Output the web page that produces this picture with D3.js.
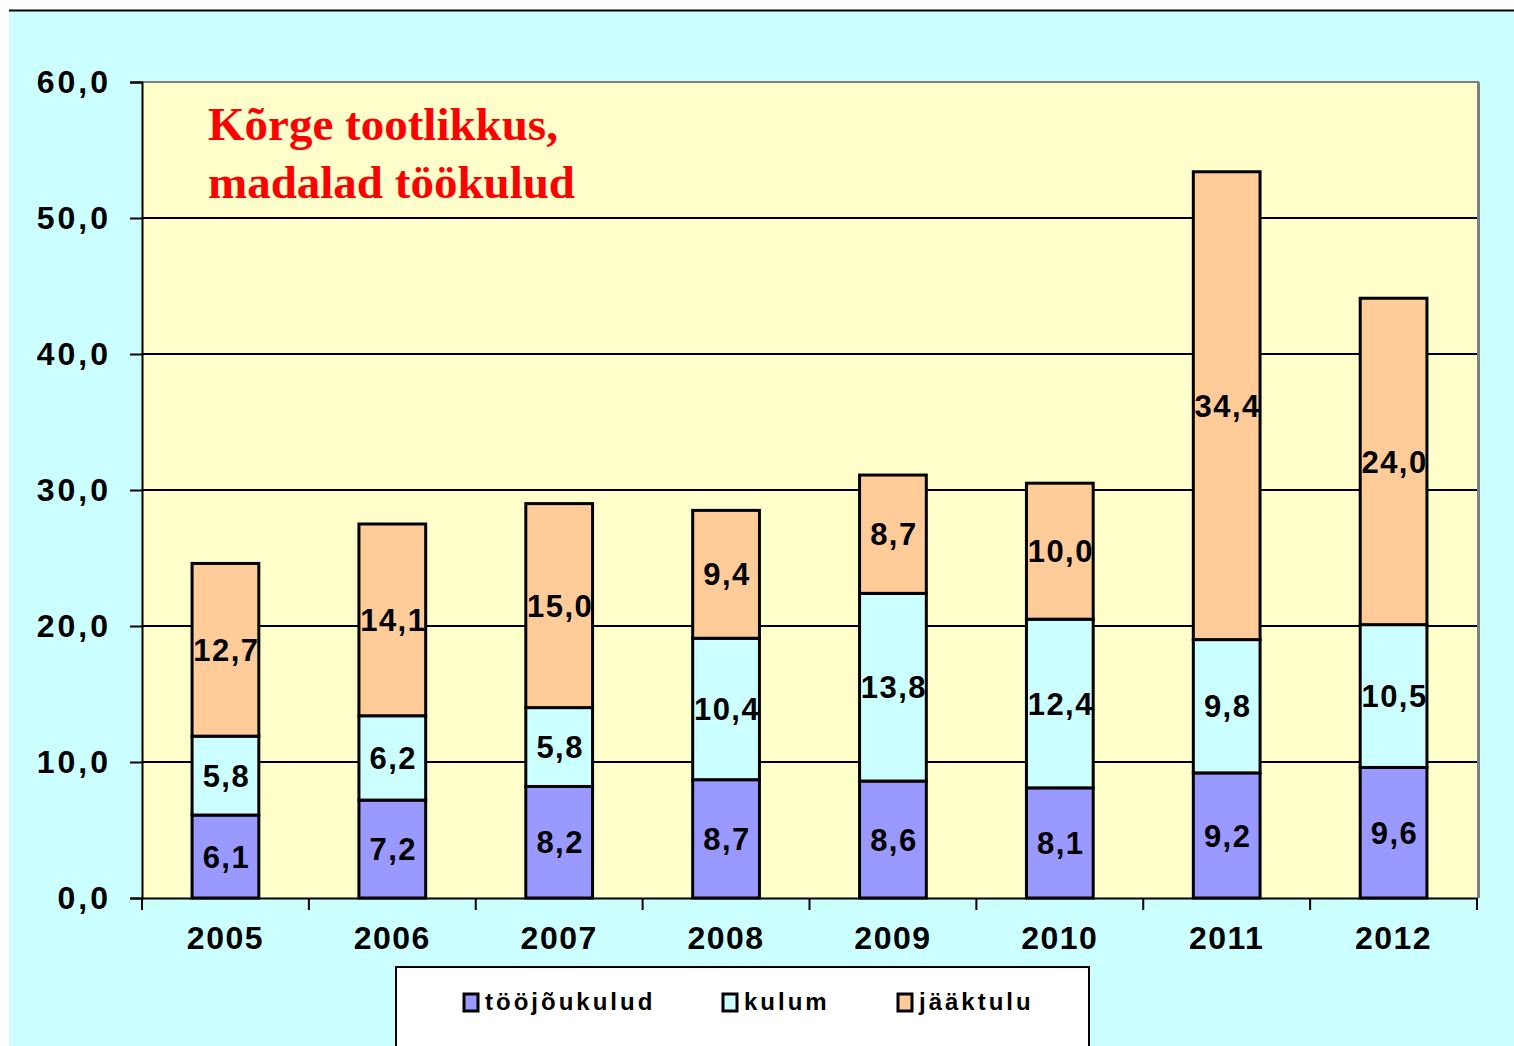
<!DOCTYPE html>
<html>
<head>
<meta charset="utf-8">
<script src="https://cdn.jsdelivr.net/npm/d3@7"></script>
<style>
  body { margin: 0; background: #fff; }
  svg text { font-family: "Liberation Sans", Arial, sans-serif; font-weight: bold; }
</style>
</head>
<body>
<svg width="1514" height="1046"></svg>
<script>
// andmed
const years = ["2005", "2006", "2007", "2008", "2009", "2010", "2011", "2012"];
const toojoukulud = [6.1, 7.2, 8.2, 8.7, 8.6, 8.1, 9.2, 9.6];
const kulum = [5.8, 6.2, 5.8, 10.4, 13.8, 12.4, 9.8, 10.5];
const jaaktulu = [12.7, 14.1, 15.0, 9.4, 8.7, 10.0, 34.4, 24.0];
const seriesNames = ["tööjõukulud", "kulum", "jääktulu"];
const yTicks = [0, 10, 20, 30, 40, 50, 60];
const titleLines = ["Kõrge tootlikkus,", "madalad töökulud"];

const colors = ["#9999ff", "#ccffff", "#ffcc99"];
const fmt = v => v.toFixed(1).replace(".", ",");

const svg = d3.select("svg");

// taust
svg.append("rect").attr("x", 9).attr("y", 11).attr("width", 1505).attr("height", 1035).attr("fill", "#ccffff");
svg.append("line").attr("x1", 9).attr("x2", 1514).attr("y1", 10.5).attr("y2", 10.5).attr("stroke", "#000").attr("stroke-width", 2);

const plot = { left: 142, right: 1477, top: 82, bottom: 898 };

const x = d3.scaleBand().domain(years).range([plot.left, plot.right]).paddingInner(0.6).paddingOuter(0.3);
const xb = d3.scaleBand().domain(years).range([plot.left, plot.right]);
const y = d3.scaleLinear().domain([0, 60]).range([plot.bottom, plot.top]);

// joonise ala
svg.append("rect")
  .attr("x", plot.left).attr("y", plot.top)
  .attr("width", plot.right - plot.left).attr("height", plot.bottom - plot.top)
  .attr("fill", "#ffffcc");
svg.append("line").attr("x1", plot.left).attr("x2", plot.right + 2).attr("y1", plot.top).attr("y2", plot.top)
  .attr("stroke", "#808080").attr("stroke-width", 2);
svg.append("line").attr("x1", plot.right + 1.5).attr("x2", plot.right + 1.5).attr("y1", plot.top).attr("y2", plot.bottom)
  .attr("stroke", "#808080").attr("stroke-width", 3);

// ruudustik
svg.append("g").selectAll("line")
  .data(yTicks.filter(d => d > 0 && d < 60))
  .enter().append("line")
  .attr("x1", plot.left).attr("x2", plot.right)
  .attr("y1", d => y(d)).attr("y2", d => y(d))
  .attr("stroke", "#000").attr("stroke-width", 2);

// y telg
const yAxis = svg.append("g")
  .attr("transform", `translate(${plot.left},0)`)
  .call(d3.axisLeft(y).tickValues(yTicks).tickSize(12).tickPadding(19).tickFormat(fmt));
yAxis.select(".domain").attr("stroke-width", 2);
yAxis.selectAll(".tick line").attr("stroke-width", 2);
yAxis.selectAll("text").attr("font-size", 32).attr("letter-spacing", 3).attr("fill", "#000");

// tulbad
const stack = d3.stack().keys([0, 1, 2]).value((d, k) => d[k]);
const rows = years.map((yr, i) => {
  const r = [toojoukulud[i], kulum[i], jaaktulu[i]];
  r.year = yr;
  return r;
});
const layers = stack(rows);

const g = svg.append("g");
layers.forEach((layer, k) => {
  g.selectAll(".bar" + k)
    .data(layer)
    .enter().append("rect")
    .attr("x", d => x(d.data.year))
    .attr("y", d => y(d[1]))
    .attr("width", x.bandwidth())
    .attr("height", d => y(d[0]) - y(d[1]))
    .attr("fill", colors[k])
    .attr("stroke", "#000")
    .attr("stroke-width", 3);
});
layers.forEach((layer, k) => {
  g.selectAll(".lab" + k)
    .data(layer)
    .enter().append("text")
    .attr("x", d => x(d.data.year) + x.bandwidth() / 2 + 1)
    .attr("y", d => (y(d[0]) + y(d[1])) / 2)
    .attr("dy", "0.36em")
    .attr("text-anchor", "middle")
    .attr("font-size", 31)
    .attr("letter-spacing", 1.5)
    .attr("fill", "#000")
    .text(d => fmt(d.data[k]));
});

// x telg
const xAxis = svg.append("g")
  .attr("transform", `translate(0,${plot.bottom})`)
  .call(d3.axisBottom(xb).tickSize(0).tickPadding(28));
xAxis.select(".domain").attr("stroke-width", 2);
xAxis.selectAll("text").attr("font-size", 32).attr("letter-spacing", 1.5).attr("fill", "#000");
svg.append("g").selectAll("line")
  .data(years.concat(["end"]))
  .enter().append("line")
  .attr("x1", d => d === "end" ? plot.right : xb(d))
  .attr("x2", d => d === "end" ? plot.right : xb(d))
  .attr("y1", plot.bottom).attr("y2", plot.bottom + 12)
  .attr("stroke", "#000").attr("stroke-width", 2);

// pealkiri
svg.append("g").selectAll("text")
  .data(titleLines)
  .enter().append("text")
  .attr("x", 208)
  .attr("y", (d, i) => 140 + i * 58)
  .attr("font-size", 47)
  .attr("fill", "#ff0000")
  .style("font-family", "'Liberation Serif', 'Times New Roman', serif")
  .text(d => d);

// legend
svg.append("rect").attr("x", 396).attr("y", 967).attr("width", 693).attr("height", 100)
  .attr("fill", "#fff").attr("stroke", "#000").attr("stroke-width", 2);
const legX = [463, 722, 897];
const leg = svg.append("g").selectAll("g")
  .data(seriesNames)
  .enter().append("g")
  .attr("transform", (d, i) => `translate(${legX[i]},993)`);
leg.append("rect").attr("x", 1).attr("y", 1).attr("width", 14).attr("height", 17)
  .attr("fill", (d, i) => colors[i]).attr("stroke", "#000").attr("stroke-width", 3);
leg.append("text").attr("x", 22).attr("y", 17).attr("font-size", 24)
  .attr("letter-spacing", 3).attr("fill", "#000").text(d => d);
</script>
</body>
</html>
